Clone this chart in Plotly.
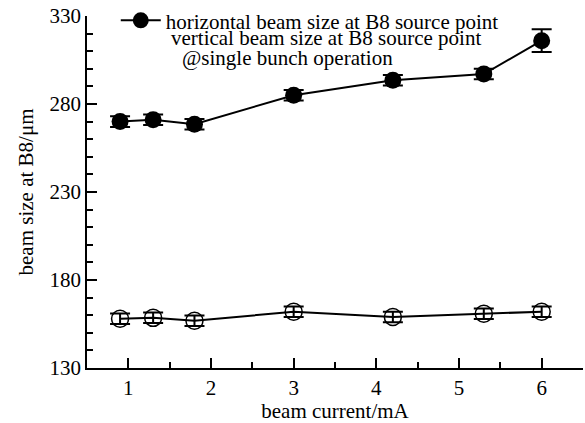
import plotly.graph_objects as go

current = [0.9, 1.3, 1.8, 3.0, 4.2, 5.3, 6.0]
horiz = [270, 271, 268.5, 285, 293.5, 297, 316]
horiz_err = [3, 3, 3, 3, 3, 3, 6.5]
vert = [158, 158.5, 156.8, 162, 159, 160.8, 162]
vert_err = [3, 3, 3, 3, 3, 3, 3]

FONT = "Times New Roman, Liberation Serif, serif"
FS = 21

fig = go.Figure()
fig.add_trace(go.Scatter(
    x=current, y=horiz, mode="lines+markers",
    name="horizontal beam size at B8 source point",
    line=dict(color="black", width=2),
    marker=dict(symbol="circle", size=17, color="black"),
    error_y=dict(type="data", array=horiz_err, color="black", thickness=2, width=10),
))
fig.add_trace(go.Scatter(
    x=current, y=vert, mode="lines+markers",
    name="vertical beam size at B8 source point",
    showlegend=False,
    line=dict(color="black", width=2),
    marker=dict(symbol="circle-open", size=17, color="black", line=dict(width=1.5, color="black")),
    error_y=dict(type="data", array=vert_err, color="black", thickness=2, width=10),
))

fig.update_layout(
    width=585, height=423,
    margin=dict(l=87, r=2, t=16, b=55, autoexpand=False),
    paper_bgcolor="white", plot_bgcolor="white",
    font=dict(family=FONT, size=FS, color="black"),
    showlegend=True,
    legend=dict(x=0.058, y=1.045, xanchor="left", yanchor="top",
                bgcolor="rgba(0,0,0,0)", font=dict(size=FS, family=FONT),
                itemwidth=40, tracegroupgap=0),
    annotations=[
        dict(text="vertical beam size at B8 source point", xref="paper", yref="paper",
             x=0.166, y=0.9375, xanchor="left", yanchor="middle", showarrow=False,
             font=dict(size=FS, family=FONT)),
        dict(text="@single bunch operation", xref="paper", yref="paper",
             x=0.188, y=0.88, xanchor="left", yanchor="middle", showarrow=False,
             font=dict(size=FS, family=FONT)),
    ],
)
fig.update_xaxes(
    range=[0.5, 6.5], tickvals=[1, 2, 3, 4, 5, 6], ticks="inside", ticklen=10, tickwidth=1.5,
    showline=True, linecolor="black", linewidth=1.5, showgrid=False, zeroline=False,
    minor=dict(dtick=0.5, tick0=0.5, ticks="inside", ticklen=6, tickwidth=1.5, tickcolor="black"),
    tickcolor="black",
    title=dict(text="beam current/mA", font=dict(size=FS, family=FONT), standoff=2),
    tickfont=dict(size=FS, family=FONT),
)
fig.update_yaxes(
    range=[130, 330], tickvals=[130, 180, 230, 280, 330], ticks="inside", ticklen=10, tickwidth=1.5,
    showline=True, linecolor="black", linewidth=1.5, showgrid=False, zeroline=False,
    minor=dict(dtick=10, tick0=130, ticks="inside", ticklen=6, tickwidth=1.5, tickcolor="black"),
    tickcolor="black",
    title=dict(text="beam size at B8/μm", font=dict(size=FS, family=FONT), standoff=10),
    tickfont=dict(size=FS, family=FONT),
)

fig.write_html("out.html")
